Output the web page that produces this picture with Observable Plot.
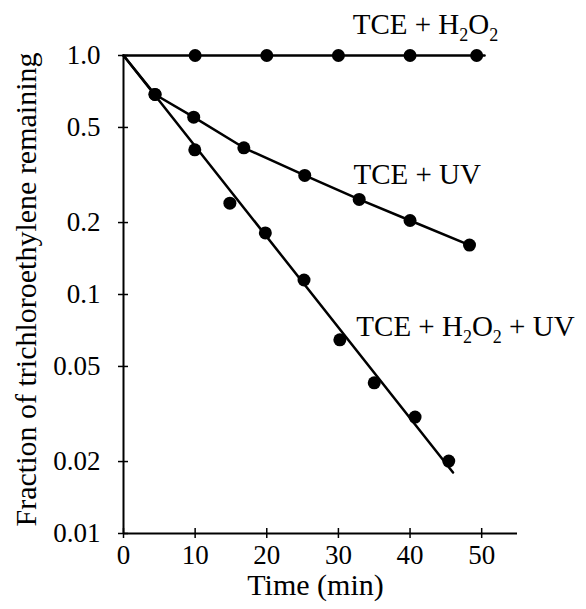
<!DOCTYPE html>
<html>
<head>
<meta charset="utf-8">
<script src="https://cdn.jsdelivr.net/npm/d3@7"></script>
<script src="https://cdn.jsdelivr.net/npm/@observablehq/plot@0.6"></script>
<style>
  html, body { margin: 0; padding: 0; background: white; }
  #chart svg text { font-family: 'Liberation Serif', 'Times New Roman', serif; }
</style>
</head>
<body>
<div id="chart"></div>
<script>
// --- Data ---
const xTitle = "Time (min)";
const yTitle = "Fraction of trichloroethylene remaining";

const xTicks = [0, 10, 20, 30, 40, 50];
const yTicks = [0.01, 0.02, 0.05, 0.1, 0.2, 0.5, 1];
const yTickLabels = ["0.01", "0.02", "0.05", "0.1", "0.2", "0.5", "1.0"];

// TCE + H2O2
const h2o2Times = [10, 20, 30, 40, 49.3];
const h2o2Fractions = [1, 1, 1, 1, 1];
const h2o2LineTimes = [0, 50.4];
const h2o2LineFractions = [1, 1];

// TCE + UV
const uvTimes = [4.4, 9.8, 16.8, 25.3, 32.9, 40.0, 48.3];
const uvFractions = [0.687, 0.552, 0.411, 0.315, 0.250, 0.204, 0.161];
const uvLineTimes = [0, 4.4, 9.8, 16.8, 25.3, 32.9, 40.0, 48.3];
const uvLineFractions = [1, 0.687, 0.552, 0.411, 0.315, 0.250, 0.204, 0.161];

// TCE + H2O2 + UV
const bothTimes = [4.4, 9.95, 14.85, 19.8, 25.2, 30.2, 35.0, 40.7, 45.4];
const bothFractions = [0.687, 0.403, 0.241, 0.181, 0.115, 0.0646, 0.0427, 0.0307, 0.0201];
const bothLineTimes = [0, 46.0];
const bothLineFractions = [1, 0.018];

// Series labels (anchored in data coordinates)
const seriesLabels = ["TCE + H2O2", "TCE + UV", "TCE + H2O2 + UV"];
const labelTimes = [32.0, 32.1, 32.5];
const labelFractions = [1.236, 0.291, 0.0673];

// --- Build tables ---
const zip = (xs, ys) => xs.map((x, i) => ({t: x, f: ys[i]}));
const points = [
  ...zip(h2o2Times, h2o2Fractions),
  ...zip(uvTimes, uvFractions),
  ...zip(bothTimes, bothFractions)
];
const lines = [
  zip(h2o2LineTimes, h2o2LineFractions),
  zip(uvLineTimes, uvLineFractions),
  zip(bothLineTimes, bothLineFractions)
];
const labels = seriesLabels.map((s, i) => ({s, t: labelTimes[i], f: labelFractions[i]}));

const font = "'Liberation Serif', 'Times New Roman', serif";

const plot = Plot.plot({
  width: 586,
  height: 609,
  marginLeft: 123,
  marginRight: 69,
  marginTop: 55,
  marginBottom: 76,
  style: {fontFamily: font, background: "white", color: "black", overflow: "visible"},
  x: {domain: [0, 55]},
  y: {type: "log", domain: [0.01, 1]},
  marks: [
    Plot.ruleX([0], {stroke: "black", strokeWidth: 2}),
    Plot.ruleY([0.01], {stroke: "black", strokeWidth: 2}),
    Plot.axisX(xTicks, {
      tickSize: 10, dy: -5, tickPadding: 6, fontSize: 27,
      strokeWidth: 1.5, label: null, tickFormat: d => String(d)
    }),
    Plot.axisY(yTicks, {
      tickSize: 10, dx: 5, tickPadding: 18, fontSize: 27,
      strokeWidth: 1.5, label: null,
      tickFormat: d => yTickLabels[yTicks.indexOf(d)]
    }),
    Plot.text([xTitle], {
      frameAnchor: "bottom", lineAnchor: "bottom", textAnchor: "middle", dy: 61, dx: -5,
      fontSize: 30, text: d => d
    }),
    Plot.text([yTitle], {
      frameAnchor: "left", lineAnchor: "bottom", textAnchor: "middle", rotate: -90, dx: -88, dy: -5,
      fontSize: 30, text: d => d
    }),
    ...lines.map(l => Plot.line(l, {x: "t", y: "f", stroke: "black", strokeWidth: 2.5})),
    Plot.dot(points, {x: "t", y: "f", r: 6.5, fill: "black", stroke: "none"}),
    Plot.text(labels, {
      x: "t", y: "f", text: "s", textAnchor: "start", lineAnchor: "bottom",
      fontSize: 29, fill: "black"
    })
  ]
});

// Render chemical subscripts (digits following a letter)
d3.select(plot).selectAll("text").each(function() {
  const el = this;
  const str = el.textContent;
  if (!/[A-Z]2/.test(str) || el.querySelector("tspan")) return;
  const parts = [];
  let buf = "";
  for (let i = 0; i < str.length; i++) {
    const c = str[i];
    if (/\d/.test(c) && i > 0 && /[A-Z]/.test(str[i - 1])) {
      if (buf) parts.push({s: buf, sub: false});
      parts.push({s: c, sub: true});
      buf = "";
    } else buf += c;
  }
  if (buf) parts.push({s: buf, sub: false});
  el.textContent = "";
  let shifted = false;
  for (const p of parts) {
    const ts = document.createElementNS("http://www.w3.org/2000/svg", "tspan");
    ts.textContent = p.s;
    if (p.sub) {
      ts.setAttribute("font-size", "18");
      if (!shifted) { ts.setAttribute("dy", "7"); shifted = true; }
    } else if (shifted) {
      ts.setAttribute("dy", "-7");
      shifted = false;
    }
    el.appendChild(ts);
  }
  el.setAttribute("style", "white-space: pre");
});

document.getElementById("chart").appendChild(plot);
</script>
</body>
</html>
